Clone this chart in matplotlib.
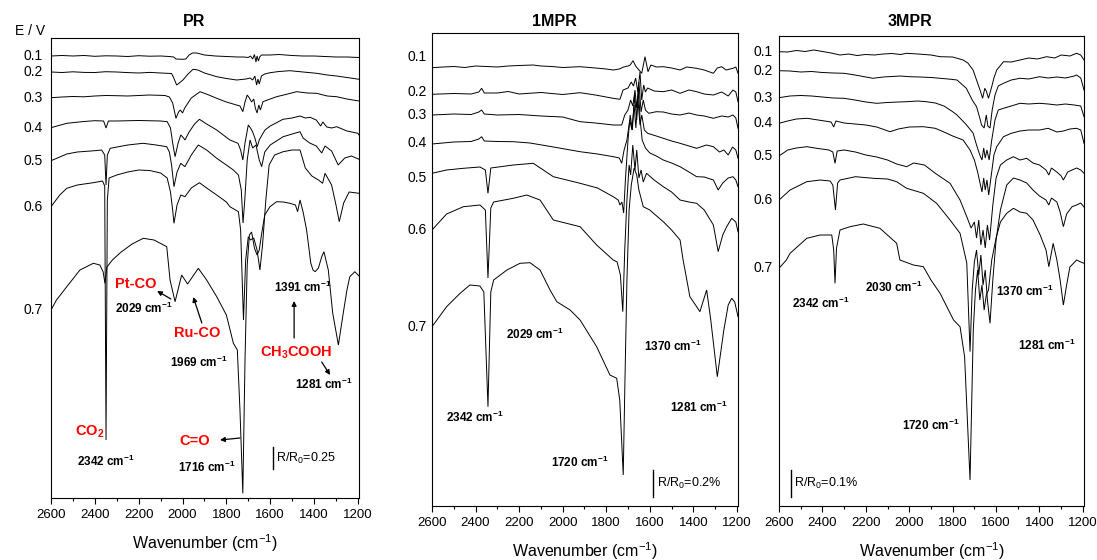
import matplotlib
matplotlib.use("Agg")
import matplotlib.pyplot as plt
from matplotlib.ticker import MultipleLocator

plt.rcParams['font.family'] = ['Liberation Sans', 'DejaVu Sans']
plt.rcParams['mathtext.default'] = 'regular'

POTENTIALS = ["0.1", "0.2", "0.3", "0.4", "0.5", "0.6", "0.7"]

# ---- PR: (wavenumber / cm-1, reflectance signal / a.u.) ----
pr_01 = [(2600, 442), (2550, 442.5), (2500, 442), (2450, 442.5), (2400, 441.7), (2350, 442.2), (2300, 442),
         (2250, 441.5), (2200, 442.3), (2150, 441.8), (2100, 442), (2060, 441.5), (2040, 441), (2030, 439),
         (2000, 438.7), (1985, 439), (1970, 443), (1955, 445), (1935, 445), (1900, 443), (1850, 442),
         (1800, 441.5), (1750, 441), (1720, 441), (1700, 440.5), (1690, 442), (1680, 439), (1672, 443.5),
         (1665, 436), (1660, 442), (1654, 437), (1648, 441), (1640, 443), (1600, 443), (1560, 443.5),
         (1500, 442.5), (1450, 442), (1400, 442), (1350, 441.5), (1300, 441), (1250, 441), (1195, 440.5)]
pr_02 = [(2600, 426), (2550, 425.5), (2500, 426.2), (2450, 425.6), (2400, 425.5), (2350, 426.3), (2300, 426),
         (2250, 425.4), (2200, 425), (2150, 425.6), (2100, 425), (2050, 424.5), (2040, 420), (2027, 413),
         (2015, 415), (1998, 418), (1975, 424), (1952, 428.7), (1930, 428), (1900, 425), (1844, 421.3),
         (1800, 419.5), (1753, 418), (1710, 419), (1692, 420), (1680, 418), (1670, 422), (1662, 413),
         (1656, 419), (1650, 414), (1640, 422), (1625, 424), (1601, 425.3), (1560, 426.5), (1510, 427.3),
         (1450, 426), (1388, 424.7), (1340, 423), (1297, 422), (1250, 420.5), (1195, 418.7)]
pr_03 = [(2600, 400.3), (2550, 401), (2500, 401.5), (2450, 401.2), (2400, 402), (2350, 402.5), (2300, 402.3),
         (2250, 402), (2200, 402.5), (2150, 403), (2080, 402.5), (2060, 401), (2045, 395), (2030, 379.7),
         (2018, 386), (2010, 388), (2000, 385), (1990, 390), (1960, 400), (1920, 406.3), (1880, 403),
         (1844, 399.7), (1800, 396), (1769, 394), (1738, 392), (1725, 386.3), (1715, 396), (1705, 403),
         (1695, 400), (1685, 396), (1675, 399), (1668, 390), (1660, 385), (1652, 393), (1645, 388),
         (1633, 396.3), (1600, 399), (1571, 401.3), (1520, 404), (1480, 406.3), (1430, 405), (1388, 404.7),
         (1340, 402), (1297, 401.3), (1250, 399), (1195, 397)]
pr_04 = [(2600, 370.3), (2528, 374.7), (2450, 376.5), (2400, 377.3), (2360, 377), (2349, 370), (2338, 377),
         (2300, 377), (2200, 377.5), (2100, 377), (2070, 376.3), (2055, 370), (2045, 355), (2034, 341.3),
         (2020, 355), (2008, 363), (1995, 360), (1989, 358), (1970, 366), (1945, 374), (1923, 378.7),
         (1890, 374), (1844, 368), (1784, 358), (1747, 354.7), (1735, 348), (1725, 338), (1715, 355),
         (1700, 373), (1690, 370), (1680, 366), (1670, 360), (1659, 351.3), (1650, 358), (1640, 362),
         (1624, 368), (1600, 372), (1571, 375.3), (1542, 378.7), (1500, 380), (1464, 382), (1440, 380),
         (1418, 380.7), (1390, 378), (1370, 372), (1360, 376), (1342, 371), (1320, 370), (1297, 371.3),
         (1250, 367), (1200, 364.7), (1195, 363)]
pr_05 = [(2600, 337.3), (2560, 341), (2528, 344), (2480, 346), (2400, 347.3), (2369, 348), (2355, 343),
         (2349, 313), (2343, 343), (2330, 349.7), (2250, 353), (2180, 354.7), (2120, 353), (2072, 351.3),
         (2060, 346), (2050, 333), (2039, 311.3), (2025, 326), (2008, 334.7), (1989, 331.3), (1960, 343),
         (1928, 353), (1890, 348), (1844, 339.7), (1800, 333), (1768, 328), (1745, 323), (1732, 308),
         (1724, 275), (1716, 298), (1705, 338), (1692, 358), (1680, 350), (1665, 353), (1650, 338),
         (1639, 331.3), (1625, 346), (1600, 353), (1541, 361.3), (1500, 364), (1464, 366.3), (1450, 360),
         (1420, 355), (1390, 352), (1365, 345), (1350, 352), (1320, 347), (1290, 333), (1260, 340),
         (1230, 342), (1195, 338.7)]
pr_06 = [(2600, 291.3), (2560, 303), (2528, 309.7), (2480, 313), (2407, 315.3), (2365, 317), (2355, 312),
         (2349, 58), (2343, 298), (2335, 320), (2300, 323), (2250, 326), (2200, 328), (2150, 327.5),
         (2100, 325), (2070, 320), (2055, 306), (2045, 288), (2039, 274.7), (2025, 293), (2008, 303),
         (1989, 301.3), (1960, 310), (1923, 315.3), (1890, 310), (1844, 303), (1800, 296), (1784, 291.3),
         (1745, 286.3), (1735, 268), (1722, 178), (1712, 238), (1700, 261.3), (1690, 258), (1675, 260),
         (1660, 248), (1647, 228), (1635, 253), (1620, 298), (1605, 333), (1580, 343), (1541, 346.3),
         (1500, 348), (1464, 348), (1440, 330), (1410, 322), (1380, 318), (1361, 314.7), (1350, 324.7),
         (1320, 313), (1300, 293), (1285, 276.3), (1265, 295), (1240, 306), (1195, 304.7)]
pr_07 = [(2600, 188), (2575, 198), (2528, 211.3), (2468, 228), (2407, 234.7), (2377, 233), (2362, 226),
         (2354, 214.7), (2345, 231), (2320, 238), (2280, 246), (2230, 254), (2179, 259.7), (2130, 258),
         (2072, 251.3), (2057, 218), (2034, 196.3), (2004, 223), (1977, 214), (1928, 229.7), (1890, 218),
         (1844, 201.3), (1800, 183), (1768, 154.7), (1750, 148), (1738, 88), (1725, 4.7), (1715, 138),
         (1705, 233), (1695, 263), (1685, 266), (1672, 250), (1660, 243), (1650, 248), (1640, 263),
         (1625, 283), (1601, 291.3), (1571, 296.3), (1540, 296), (1510, 294.7), (1485, 293), (1475, 286.3),
         (1464, 298), (1450, 286), (1434, 268), (1415, 235), (1405, 228), (1395, 226.3), (1380, 230),
         (1365, 241.3), (1355, 246.3), (1335, 228), (1315, 185), (1289, 153), (1267, 184.7), (1250, 208),
         (1237, 221.3), (1214, 226.3), (1195, 222)]

# ---- 1MPR ----
mp1_01 = [(2600, 438.3), (2550, 439), (2500, 439.5), (2450, 438.5), (2400, 440), (2350, 439.5), (2300, 439),
          (2250, 440), (2200, 440.5), (2136, 441), (2100, 440), (2050, 439.5), (2000, 438.5), (1950, 439),
          (1920, 439.3), (1850, 438), (1800, 437), (1768, 436), (1740, 437), (1720, 439), (1700, 440),
          (1690, 441), (1677, 445.3), (1665, 440), (1650, 436), (1637, 432.7), (1622, 449.3), (1608, 434.3),
          (1595, 441), (1570, 439), (1538, 439.3), (1500, 438), (1461, 436), (1430, 439), (1385, 437.7),
          (1350, 436), (1308, 432.7), (1290, 438), (1270, 439.3), (1250, 436), (1218, 437.7), (1205, 439),
          (1195, 432.7)]
mp1_02 = [(2600, 411.7), (2500, 412.5), (2420, 412), (2385, 414), (2372, 417.7), (2360, 413), (2300, 413),
          (2250, 414.5), (2200, 412), (2100, 413.5), (2000, 411.5), (1920, 413.3), (1850, 411), (1768, 407.7),
          (1737, 406.7), (1723, 416), (1700, 418), (1685, 424), (1675, 420), (1665, 428), (1655, 414),
          (1645, 434), (1637, 406), (1628, 421), (1620, 414), (1610, 418), (1580, 415), (1538, 414.3),
          (1500, 416), (1461, 412.7), (1420, 416), (1385, 414.3), (1350, 412), (1308, 411), (1270, 414),
          (1240, 410), (1218, 416), (1205, 414), (1195, 404.3)]
mp1_03 = [(2600, 391), (2500, 392), (2420, 391.5), (2385, 394), (2372, 396), (2360, 392), (2300, 391),
          (2200, 391.5), (2100, 390), (2000, 389), (1920, 384.3), (1850, 383), (1767, 381), (1729, 381),
          (1715, 391), (1700, 396), (1688, 406), (1678, 400), (1668, 416), (1660, 398), (1650, 424),
          (1640, 394), (1630, 406), (1620, 396), (1605, 392.7), (1570, 394.3), (1538, 394), (1500, 392),
          (1461, 391), (1420, 393), (1385, 391), (1350, 390), (1308, 387.7), (1270, 390), (1240, 389),
          (1218, 391), (1205, 388), (1195, 377.7)]
mp1_04 = [(2600, 362), (2500, 364), (2420, 364.5), (2385, 367), (2372, 369.3), (2360, 365), (2300, 364.5),
          (2227, 364.3), (2150, 363), (2050, 359.3), (1920, 354.3), (1840, 352), (1767, 349.3), (1740, 348),
          (1729, 342.7), (1718, 356), (1705, 366), (1692, 386), (1682, 376), (1672, 401), (1664, 378),
          (1655, 408), (1645, 381), (1637, 391), (1625, 376), (1610, 372.7), (1570, 370), (1538, 367.7),
          (1500, 365), (1461, 362.7), (1420, 360), (1385, 357.7), (1340, 361), (1308, 359.3), (1280, 354),
          (1260, 356), (1240, 351), (1220, 359), (1205, 356), (1195, 347.7)]
mp1_05 = [(2600, 332.7), (2533, 336), (2456, 337.7), (2380, 339), (2355, 336), (2343, 312.7), (2330, 338),
          (2227, 341), (2135, 342.7), (2043, 329.3), (1920, 322.7), (1840, 318), (1768, 309.3), (1745, 306),
          (1737, 301), (1728, 304), (1720, 293), (1712, 326), (1700, 366), (1690, 391), (1680, 376),
          (1670, 411), (1660, 386), (1652, 418), (1645, 388), (1635, 366), (1620, 358), (1600, 353),
          (1570, 350), (1538, 346), (1500, 343), (1461, 339.3), (1420, 334), (1385, 329.3), (1350, 329),
          (1308, 326), (1286, 316), (1265, 323), (1240, 328), (1218, 329.3), (1205, 326), (1195, 319.3)]
mp1_06 = [(2600, 276), (2533, 292), (2456, 299.3), (2380, 301), (2355, 296), (2343, 228), (2330, 298),
          (2317, 304), (2227, 307.7), (2165, 311), (2104, 306), (2043, 286), (1920, 279.3), (1844, 261),
          (1768, 246), (1750, 244), (1735, 231), (1724, 194.3), (1715, 256), (1705, 306), (1695, 341),
          (1688, 331), (1678, 361), (1668, 336), (1660, 356), (1650, 328), (1640, 336), (1630, 324),
          (1615, 332.7), (1580, 326), (1538, 319.3), (1500, 314), (1461, 306), (1420, 304), (1385, 302.7),
          (1350, 296), (1308, 281), (1286, 254.3), (1265, 271), (1247, 279.3), (1224, 287.7), (1205, 284),
          (1195, 274.3)]
mp1_07 = [(2600, 179.3), (2533, 199.3), (2471, 212.7), (2426, 221), (2380, 220), (2362, 214), (2343, 99.3),
          (2330, 214), (2317, 226), (2256, 236), (2196, 242.7), (2150, 243.3), (2104, 236), (2058, 216),
          (2027, 204.3), (1966, 196), (1920, 186), (1844, 159.3), (1783, 131), (1752, 127.7), (1738, 106),
          (1722, 31), (1714, 126), (1705, 226), (1695, 296), (1685, 321), (1672, 338), (1660, 331),
          (1650, 316), (1630, 299.3), (1600, 296), (1583, 292.7), (1538, 284.3), (1500, 276), (1461, 266),
          (1447, 246), (1430, 226), (1416, 209.3), (1390, 201), (1370, 194.3), (1339, 216), (1320, 186),
          (1290, 129.3), (1260, 176), (1240, 201), (1224, 207.7), (1210, 204), (1195, 189.3)]

# ---- 3MPR ----
mp3_01 = [(2600, 454.3), (2560, 454), (2520, 455.5), (2480, 454.5), (2440, 456), (2400, 454.5), (2360, 453),
          (2319, 451), (2280, 452), (2240, 450.5), (2200, 451.5), (2160, 451), (2120, 452), (2080, 452.5),
          (2040, 451.5), (2012, 452.7), (1960, 452), (1900, 451), (1858, 449.3), (1800, 449), (1752, 446),
          (1730, 443), (1706, 436), (1690, 426), (1674, 416), (1662, 407.7), (1652, 417.7), (1645, 415),
          (1635, 407.7), (1620, 419.3), (1610, 428), (1597, 436), (1566, 444.3), (1530, 444), (1490, 446),
          (1450, 448), (1410, 447), (1367, 449.3), (1330, 448), (1300, 451), (1260, 450), (1229, 452.7),
          (1210, 451), (1195, 446)]
mp3_02 = [(2600, 435.3), (2550, 435), (2500, 434), (2450, 434.5), (2400, 433.5), (2350, 433), (2300, 432.7),
          (2250, 431), (2200, 429), (2167, 427.7), (2120, 429), (2080, 429.5), (2040, 430), (2000, 429.3),
          (1950, 429), (1900, 428.5), (1858, 427.7), (1820, 427), (1780, 426), (1737, 417.7), (1710, 406),
          (1690, 399.3), (1675, 388), (1667, 381), (1655, 378), (1645, 391), (1638, 380), (1628, 378),
          (1618, 396), (1605, 411), (1590, 420), (1566, 422.7), (1530, 426), (1490, 427.7), (1450, 427),
          (1400, 429.3), (1360, 428), (1320, 429), (1280, 428), (1240, 430), (1229, 431), (1210, 428),
          (1195, 416)]
mp3_03 = [(2600, 408.3), (2550, 410), (2500, 410.5), (2450, 410), (2400, 409), (2350, 408), (2300, 407.7),
          (2250, 406), (2200, 404), (2150, 402.7), (2100, 403.5), (2050, 404), (2012, 404.3), (1960, 405),
          (1922, 404.3), (1880, 403), (1840, 400), (1800, 394.3), (1780, 391), (1740, 382), (1706, 373),
          (1690, 361), (1675, 351), (1665, 346), (1657, 358), (1650, 348), (1642, 356), (1632, 346),
          (1620, 366), (1605, 386), (1590, 396), (1566, 397.7), (1530, 400), (1490, 402.7), (1450, 402),
          (1400, 402.7), (1360, 402), (1320, 401), (1280, 402), (1240, 401), (1210, 400), (1195, 389.3)]
mp3_04 = [(2600, 382.7), (2560, 385), (2520, 387), (2470, 387.7), (2420, 386), (2360, 384), (2348, 379),
          (2338, 385), (2300, 383), (2250, 382), (2200, 381), (2150, 379), (2089, 374.3), (2050, 377),
          (2000, 379), (1935, 379.3), (1880, 377.7), (1840, 374), (1800, 370), (1752, 366), (1720, 356),
          (1700, 346), (1685, 334), (1675, 324), (1665, 314), (1657, 328), (1650, 316), (1642, 326),
          (1634, 311), (1622, 331), (1610, 351), (1597, 359.3), (1566, 369.3), (1530, 372.7), (1490, 375),
          (1450, 376), (1400, 376), (1360, 377.7), (1320, 374), (1290, 375), (1260, 377), (1229, 377.7),
          (1210, 376), (1195, 362.7)]
mp3_05 = [(2600, 350), (2560, 356), (2520, 358), (2472, 359.3), (2420, 357.5), (2370, 356), (2352, 354),
          (2342, 342.7), (2332, 355), (2300, 356), (2248, 354), (2200, 351), (2150, 349), (2100, 346),
          (2058, 342), (2012, 339.3), (1980, 343), (1930, 341), (1880, 332.7), (1812, 322.7), (1766, 306),
          (1735, 289.3), (1715, 278), (1700, 284), (1690, 268), (1680, 286), (1670, 261), (1660, 276),
          (1650, 258), (1640, 281), (1630, 266), (1615, 301), (1600, 328), (1580, 341), (1551, 346),
          (1520, 349.3), (1490, 346), (1459, 347.7), (1430, 343), (1400, 341), (1370, 336), (1357, 331),
          (1345, 338), (1320, 334), (1300, 330), (1290, 326), (1270, 334), (1250, 336), (1229, 338),
          (1210, 336), (1195, 332.7)]
mp3_06 = [(2600, 306), (2549, 316), (2472, 324.3), (2411, 326), (2365, 325), (2352, 321), (2340, 296),
          (2330, 323), (2319, 326), (2248, 329.3), (2166, 327.7), (2100, 327), (2058, 324.3), (2012, 317.7),
          (1935, 312.7), (1874, 302.7), (1812, 286), (1766, 272.7), (1735, 243), (1720, 154.3), (1710, 216),
          (1700, 244), (1690, 256), (1680, 231), (1670, 251), (1660, 221), (1650, 236), (1640, 206),
          (1628, 182.7), (1615, 226), (1600, 266), (1580, 296), (1551, 321), (1520, 328), (1490, 326),
          (1459, 323), (1430, 316), (1400, 310), (1370, 306), (1357, 301), (1345, 308), (1320, 304),
          (1305, 294), (1290, 279.3), (1275, 292), (1250, 299.3), (1229, 301), (1210, 303), (1195, 299)]
mp3_07 = [(2600, 237.7), (2566, 246), (2549, 252.7), (2472, 267.7), (2411, 271), (2357, 271), (2348, 256),
          (2342, 222.7), (2335, 258), (2319, 276), (2273, 279.3), (2212, 282), (2135, 277.7), (2058, 262.7),
          (2043, 246), (1981, 241), (1935, 239.3), (1900, 226), (1858, 212.7), (1796, 186), (1766, 179.3),
          (1745, 149.3), (1720, 26), (1705, 176), (1695, 216), (1685, 236), (1675, 206), (1665, 221),
          (1655, 196), (1645, 211), (1635, 216), (1620, 246), (1600, 268), (1580, 284), (1551, 292.7),
          (1520, 297.7), (1490, 294), (1459, 292.7), (1430, 286), (1397, 271), (1370, 256), (1357, 239.3),
          (1337, 262.7), (1320, 246), (1305, 226), (1290, 201), (1275, 221), (1260, 239), (1229, 246),
          (1210, 244), (1195, 242.7)]

pr_spectra = [pr_01, pr_02, pr_03, pr_04, pr_05, pr_06, pr_07]
mp1_spectra = [mp1_01, mp1_02, mp1_03, mp1_04, mp1_05, mp1_06, mp1_07]
mp3_spectra = [mp3_01, mp3_02, mp3_03, mp3_04, mp3_05, mp3_06, mp3_07]

W, H = 1097, 560
fig = plt.figure(figsize=(W / 100, H / 100), dpi=100)


def px_axes(left, top, right, bottom):
    return fig.add_axes([left / W, 1 - bottom / H, (right - left) / W, (bottom - top) / H])


def draw_panel(ax, spectra, ymax, title, title_x, label_gap, nudges):
    for trace in spectra:
        wn = [p[0] for p in trace]
        sig = [p[1] for p in trace]
        ax.plot(wn, sig, color='black', lw=0.7, solid_joinstyle='miter')
    ax.set_xlim(2600, 1195)
    ax.set_ylim(0, ymax)
    ax.set_xticks(range(2600, 1199, -200))
    ax.xaxis.set_minor_locator(MultipleLocator(100))
    ax.set_yticks([])
    ax.tick_params(axis='x', which='major', direction='out', length=4, width=0.8,
                   labelsize=9.5, pad=4)
    ax.tick_params(axis='x', which='minor', direction='out', length=2.5, width=0.8)
    for sp in ax.spines.values():
        sp.set_linewidth(0.8)
    ax.set_xlabel('Wavenumber (cm$^{-1}$)', fontsize=11.5, labelpad=8)

    # potential labels on the left of each spectrum
    trans = ax.get_yaxis_transform()
    width_px = ax.get_position().width * W
    for name, trace, dy in zip(POTENTIALS, spectra, nudges):
        ax.annotate(name, xy=(-label_gap / width_px, trace[0][1]), xycoords=trans,
                    xytext=(0, dy), textcoords='offset points',
                    ha='right', va='center', fontsize=10, annotation_clip=False)
    fig.text(title_x / W, 1 - 22 / H, title, ha='center', va='center',
             fontsize=11.5, fontweight='bold')


def peak(ax, text, wn, sig, color='black', size=8.5):
    ax.text(wn, sig, text, ha='center', va='center', fontsize=size,
            fontweight='bold', color=color)


def arrow(ax, tail, head):
    ax.annotate('', xy=head, xytext=tail,
                arrowprops=dict(arrowstyle='-|>', color='black', lw=0.9,
                                mutation_scale=7, shrinkA=0, shrinkB=0))


def scale_bar(ax, wn, bottom, length, text):
    ax.plot([wn, wn], [bottom, bottom + length], color='black', lw=1.0)
    ax.text(wn - 15, bottom + length / 2, text, ha='left', va='center', fontsize=9)


# ---- PR ----
ax1 = px_axes(51, 38, 359, 498)
draw_panel(ax1, pr_spectra, 460, 'PR', 194, 8, [0, 0, 0, 0, 0, 0, 0])
ax1.text(-0.068, 467, 'E / V', transform=ax1.get_yaxis_transform(), ha='center', va='center',
         fontsize=10, clip_on=False)
peak(ax1, 'Pt-CO', 2212, 214, 'red', 10.5)
peak(ax1, '2029 cm$^{-1}$', 2178, 190)
arrow(ax1, (2053, 199), (2116, 207))
peak(ax1, 'Ru-CO', 1934, 165, 'red', 10.5)
arrow(ax1, (1912, 175), (1951, 201))
peak(ax1, '1969 cm$^{-1}$', 1925, 136)
peak(ax1, '1391 cm$^{-1}$', 1452, 211)
peak(ax1, 'CH$_3$COOH', 1482, 145, 'red', 10.5)
arrow(ax1, (1491, 160), (1491, 197))
arrow(ax1, (1365, 136), (1327, 123))
peak(ax1, '1281 cm$^{-1}$', 1356, 114)
peak(ax1, 'C=O', 1943, 57, 'red', 10.5)
arrow(ax1, (1738, 60), (1829, 58))
peak(ax1, '1716 cm$^{-1}$', 1890, 31)
peak(ax1, 'CO$_2$', 2422, 66, 'red', 10.5)
peak(ax1, '2342 cm$^{-1}$', 2351, 37)
scale_bar(ax1, 1589, 29, 22, 'R/R$_0$=0.25')

# ---- 1MPR ----
ax2 = px_axes(432, 33, 738, 506)
draw_panel(ax2, mp1_spectra, 473, '1MPR', 554, 5, [7.5, 1.5, 0, 0.7, -3.5, 0, 0])
peak(ax2, '2029 cm$^{-1}$', 2130, 172)
peak(ax2, '2342 cm$^{-1}$', 2405, 89)
peak(ax2, '1370 cm$^{-1}$', 1495, 160)
peak(ax2, '1281 cm$^{-1}$', 1376, 99)
peak(ax2, '1720 cm$^{-1}$', 1922, 44)
scale_bar(ax2, 1584, 9, 27, 'R/R$_0$=0.2%')

# ---- 3MPR ----
ax3 = px_axes(779, 36, 1084, 506)
draw_panel(ax3, mp3_spectra, 470, '3MPR', 910, 6, [0, 0, 0, 0, 0, 0, 0])
peak(ax3, '2342 cm$^{-1}$', 2408, 203)
peak(ax3, '2030 cm$^{-1}$', 2072, 219)
peak(ax3, '1370 cm$^{-1}$', 1468, 215)
peak(ax3, '1281 cm$^{-1}$', 1367, 161)
peak(ax3, '1720 cm$^{-1}$', 1901, 81)
scale_bar(ax3, 2546, 9, 27, 'R/R$_0$=0.1%')

fig.savefig('out.png', dpi=100)
